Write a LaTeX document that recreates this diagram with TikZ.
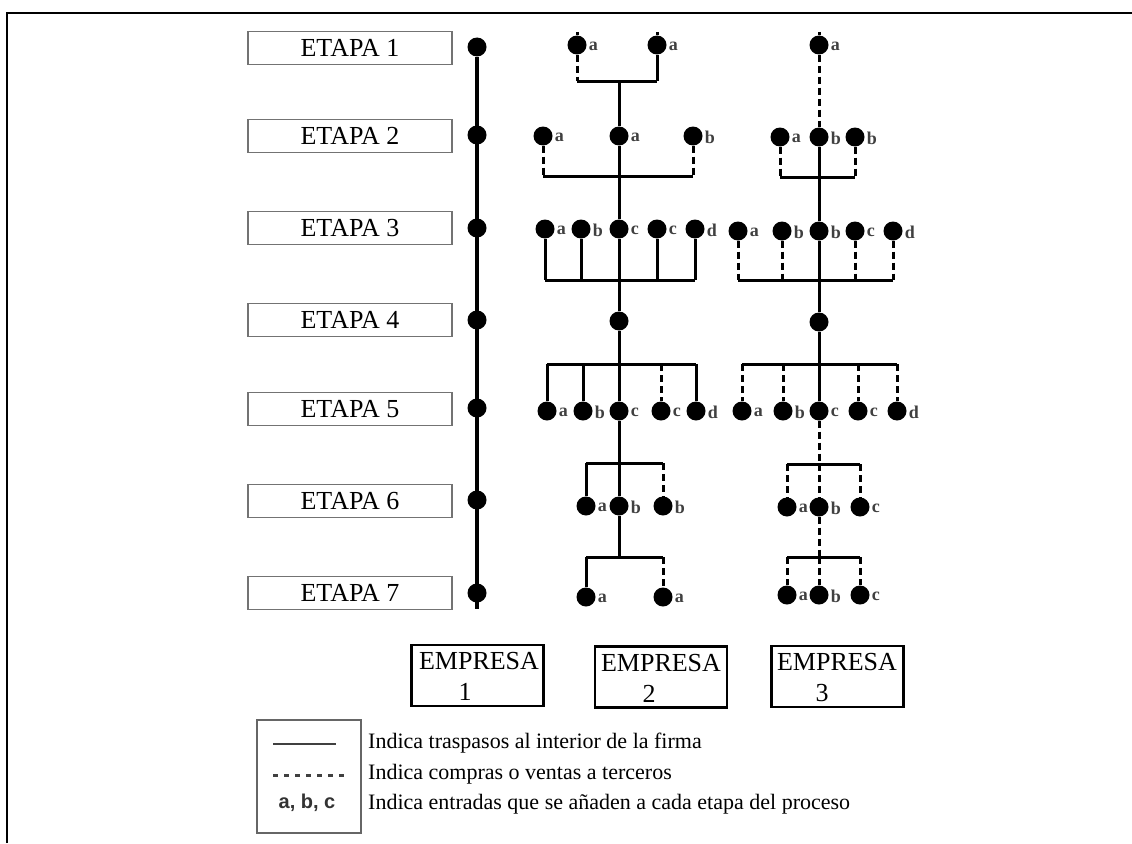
\documentclass[tikz,border=0pt]{standalone}
\usepackage{fontspec}
\setmainfont{Liberation Serif}
\newfontfamily\legsans{Liberation Sans}
\newcommand\D[4]{\node[dot] (#1) at (#2,#3) {}; \node[lbl] (#1l) at (#1.east) {#4};}
\newcommand\Dn[3]{\node[dot] (#1) at (#2,#3) {};}
\begin{document}
\begin{tikzpicture}[x=1pt,y=-1pt,
  dot/.style={circle,fill=black,minimum size=19pt,inner sep=0pt},
  lbl/.style={font=\fontsize{18}{18}\selectfont\bfseries,text=black!75,anchor=west,inner sep=0pt,xshift=2pt,yshift=-1pt},
  ln/.style={line width=3pt},
  dsh/.style={line width=3pt,dash pattern=on 7pt off 4pt},
  etapa/.style={draw=black!55,line width=1.8pt,fill=white,minimum width=204pt,minimum height=33pt,inner sep=0pt,font=\fontsize{26}{26}\selectfont},
  emp/.style={draw=black,line width=2.2pt,minimum width=132pt,minimum height=61pt,inner sep=0pt},
  etxt/.style={font=\fontsize{26}{26}\selectfont,anchor=base,inner sep=0pt},
  legt/.style={font=\fontsize{22}{22}\selectfont,anchor=base west,inner sep=0pt},
  frame/.style={line width=2.6pt}]
\fill[white] (0,0) rectangle (1132,843);
\useasboundingbox (0,0) rectangle (1132,843);
% frame
\coordinate (fa) at (7,843); \coordinate (fb) at (7,13); \coordinate (fc) at (1132,13);
\draw[frame] (fa) -- (fb) -- (fc);
% etapas
\node[etapa] (et1) at (350,48) {ETAPA 1};
\node[etapa] (et2) at (350,136) {ETAPA 2};
\node[etapa] (et3) at (350,228) {ETAPA 3};
\node[etapa] (et4) at (350,320) {ETAPA 4};
\node[etapa] (et5) at (350,409) {ETAPA 5};
\node[etapa] (et6) at (350,501) {ETAPA 6};
\node[etapa] (et7) at (350,593) {ETAPA 7};
% empresa 1
\Dn{a1}{477}{47} \Dn{a2}{477}{135} \Dn{a3}{477}{228} \Dn{a4}{477}{320}
\Dn{a5}{477}{408} \Dn{a6}{477}{500} \Dn{a7}{477}{593}
\coordinate (abot) at (477,609);
\draw[line width=3.6pt] (a1) -- (abot);
% empresa 2
\D{b1a}{577}{45}{a} \D{b1b}{657}{45}{a}
\coordinate (b1at) at (577,32); \coordinate (b1bt) at (657,32);
\draw[ln] (b1at) -- (b1a); \draw[ln] (b1bt) -- (b1b);
\coordinate (k1) at (619,81);
\draw[dsh] (b1a) -- (b1a |- k1); \draw[ln] (b1b) -- (b1b |- k1);
\draw[ln] (b1a |- k1) -- (b1b |- k1);
\D{b2a}{543}{136}{a} \D{b2b}{619}{136}{a} \D{b2c}{693}{136}{b}
\draw[ln] (k1) -- (b2b);
\coordinate (k2) at (619,176);
\draw[dsh] (b2a) -- (b2a |- k2); \draw[dsh] (b2c) -- (b2c |- k2);
\draw[ln] (b2a |- k2) -- (b2c |- k2);
\D{b3a}{545}{229}{a} \D{b3b}{581}{229}{b} \D{b3c}{619}{229}{c} \D{b3d}{657}{229}{c} \D{b3e}{695}{229}{d}
\draw[ln] (b2b) -- (b3c);
\coordinate (k3) at (619,280);
\draw[ln] (b3a) -- (b3a |- k3); \draw[ln] (b3b) -- (b3b |- k3);
\draw[ln] (b3d) -- (b3d |- k3); \draw[ln] (b3e) -- (b3e |- k3);
\draw[ln] (b3a |- k3) -- (b3e |- k3);
\Dn{b4}{619}{321}
\draw[ln] (b3c) -- (b4);
\coordinate (k5) at (619,364);
\draw[ln] (b4) -- (k5);
\D{b5a}{547}{411}{a} \D{b5b}{583}{411}{b} \D{b5c}{619}{411}{c} \D{b5d}{661}{411}{c} \D{b5e}{696}{411}{d}
\draw[ln] (b5a |- k5) -- (b5e |- k5);
\draw[ln] (b5a |- k5) -- (b5a); \draw[ln] (b5b |- k5) -- (b5b);
\draw[ln] (k5) -- (b5c); \draw[dsh] (b5d |- k5) -- (b5d); \draw[ln] (b5e |- k5) -- (b5e);
\coordinate (k6) at (619,463);
\draw[ln] (b5c) -- (k6);
\D{b6a}{586}{506}{a} \D{b6b}{619}{506}{b} \D{b6c}{663}{506}{b}
\draw[ln] (b6a |- k6) -- (b6c |- k6);
\draw[ln] (b6a |- k6) -- (b6a); \draw[ln] (k6) -- (b6b); \draw[dsh] (b6c |- k6) -- (b6c);
\coordinate (k7) at (619,557);
\draw[ln] (b6b) -- (k7);
\D{b7a}{586}{597}{a} \D{b7b}{663}{597}{a}
\draw[ln] (b7a |- k7) -- (b7b |- k7);
\draw[ln] (b7a |- k7) -- (b7a); \draw[dsh] (b7b |- k7) -- (b7b);
% empresa 3
\D{c1}{819}{45}{a}
\coordinate (c1t) at (819,32);
\draw[ln] (c1t) -- (c1);
\D{c2a}{780}{137}{a} \D{c2b}{819}{137}{b} \D{c2c}{855}{137}{b}
\draw[dsh] (c1) -- (c2b);
\coordinate (m2) at (819,177);
\draw[dsh] (c2a) -- (c2a |- m2); \draw[dsh] (c2c) -- (c2c |- m2);
\draw[ln] (c2a |- m2) -- (c2c |- m2);
\D{c3a}{738}{231}{a} \D{c3b}{782}{231}{b} \D{c3c}{819}{231}{b} \D{c3d}{855}{231}{c} \D{c3e}{893}{231}{d}
\draw[ln] (c2b) -- (c3c);
\coordinate (m3) at (819,280);
\draw[dsh] (c3a) -- (c3a |- m3); \draw[dsh] (c3b) -- (c3b |- m3);
\draw[dsh] (c3d) -- (c3d |- m3); \draw[dsh] (c3e) -- (c3e |- m3);
\draw[ln] (c3a |- m3) -- (c3e |- m3);
\Dn{c4}{819}{322}
\draw[ln] (c3c) -- (c4);
\coordinate (m5) at (819,364);
\draw[ln] (c4) -- (m5);
\D{c5a}{742}{411}{a} \D{c5b}{783}{411}{b} \D{c5c}{819}{411}{c} \D{c5d}{858}{411}{c} \D{c5e}{897}{411}{d}
\draw[ln] (c5a |- m5) -- (c5e |- m5);
\draw[dsh] (c5a |- m5) -- (c5a); \draw[dsh] (c5b |- m5) -- (c5b);
\draw[ln] (m5) -- (c5c); \draw[dsh] (c5d |- m5) -- (c5d); \draw[dsh] (c5e |- m5) -- (c5e);
\coordinate (m6) at (819,464);
\draw[dsh] (c5c) -- (m6);
\D{c6a}{787}{507}{a} \D{c6b}{819}{507}{b} \D{c6c}{860}{507}{c}
\draw[ln] (c6a |- m6) -- (c6c |- m6);
\draw[dsh] (c6a |- m6) -- (c6a); \draw[dsh] (m6) -- (c6b); \draw[dsh] (c6c |- m6) -- (c6c);
\coordinate (m7) at (819,557);
\draw[dsh] (c6b) -- (m7);
\D{c7a}{787}{595}{a} \D{c7b}{819}{595}{b} \D{c7c}{860}{595}{c}
\draw[ln] (c7a |- m7) -- (c7c |- m7);
\draw[dsh] (c7a |- m7) -- (c7a); \draw[dsh] (m7) -- (c7b); \draw[dsh] (c7c |- m7) -- (c7c);
% empresa boxes
\node[emp] (E1) at (477.5,675.5) {};
\node[etxt] (E1t) at (479,669) {EMPRESA};
\node[etxt] (E1n) at (465,700) {1};
\node[emp] (E2) at (661,677) {};
\node[etxt] (E2t) at (661,671) {EMPRESA};
\node[etxt] (E2n) at (649,702) {2};
\node[emp] (E3) at (837.5,676.5) {};
\node[etxt] (E3t) at (837,670) {EMPRESA};
\node[etxt] (E3n) at (822,701) {3};
% legend
\node[draw=black!60,line width=2pt,minimum width=104pt,minimum height=113pt,inner sep=0pt] (leg) at (309,776.5) {};
\coordinate (ls1) at (273,744); \coordinate (ls2) at (336,744);
\draw[line width=2.6pt,black!75] (ls1) -- (ls2);
\coordinate (ld1) at (273,775); \coordinate (ld2) at (347,775);
\draw[line width=3pt,black!75,dash pattern=on 5pt off 6pt] (ld1) -- (ld2);
\node[font=\legsans\bfseries\fontsize{20}{20}\selectfont,text=black!80,inner sep=0pt] (abc) at (307,803) {a, b, c};
\node[legt] (t1) at (368,748) {Indica traspasos al interior de la firma};
\node[legt] (t2) at (368,779) {Indica compras o ventas a terceros};
\node[legt] (t3) at (368,809) {Indica entradas que se añaden a cada etapa del proceso};
\end{tikzpicture}
\end{document}
